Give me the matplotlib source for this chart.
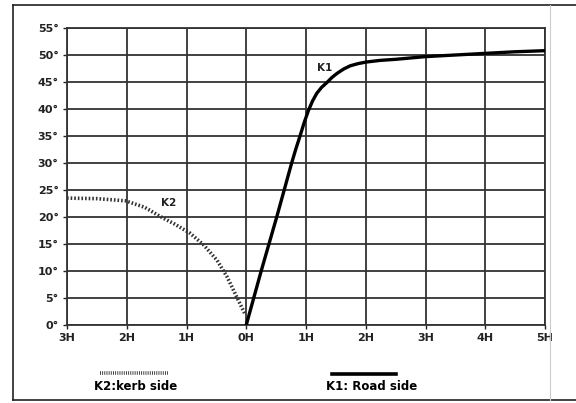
import numpy as np
import matplotlib.pyplot as plt
from matplotlib.lines import Line2D

# K1: road side (x in H, angle in degrees)
k1_x = [0.0, 0.25, 0.51, 0.76, 0.83, 0.9, 0.97, 1.04, 1.11, 1.18, 1.26, 1.35, 1.43, 1.52, 1.63, 1.74, 1.87, 2.01, 2.24, 2.5, 3.0, 3.5, 4.0, 4.5, 5.0]
k1_y = [0.0, 10.0, 20.0, 30.0, 32.6, 35.0, 37.5, 39.7, 41.5, 42.9, 44.0, 44.9, 45.8, 46.6, 47.4, 48.0, 48.4, 48.7, 49.0, 49.2, 49.7, 50.0, 50.3, 50.6, 50.8]

# K2: kerb side
k2_x = [-3.0, -2.5, -2.02, -1.7, -1.44, -1.2, -0.94, -0.71, -0.49, -0.32, -0.16, -0.02]
k2_y = [23.5, 23.4, 23.0, 21.8, 20.1, 18.7, 17.0, 14.8, 12.0, 8.9, 5.2, 2.0]

x_ticks = [-3, -2, -1, 0, 1, 2, 3, 4, 5]
x_labels = ["3H", "2H", "1H", "0H", "1H", "2H", "3H", "4H", "5H"]
y_ticks = list(range(0, 56, 5))
y_labels = [f"{v}°" for v in y_ticks]


def main():
	fig = plt.figure(figsize=(5.76, 4.03), dpi=100)
	ax = fig.add_axes([67/576, 1-325/403, (545-67)/576, (325-28)/403])

	ax.set_xlim(-3, 5)
	ax.set_ylim(0, 55)
	ax.set_xticks(x_ticks)
	ax.set_xticklabels(x_labels, fontsize=8, fontweight='bold')
	ax.set_yticks(y_ticks)
	ax.set_yticklabels(y_labels, fontsize=8, fontweight='bold')
	ax.tick_params(length=3, width=1, pad=3, colors='#222222')
	ax.grid(True, color='#333333', linewidth=1.3)
	for s in ax.spines.values():
		s.set_color('#333333')
		s.set_linewidth(1.3)

	ax.plot(k1_x, k1_y, color='black', linewidth=2.4, solid_capstyle='round', solid_joinstyle='round', zorder=3)
	ax.plot(k2_x, k2_y, color='#333333', linewidth=2.6, linestyle=(0, (0.45, 0.55)), zorder=3)

	ax.text(1.32, 47.6, "K1", fontsize=7.5, fontweight='bold', ha='center', va='center', color='#222222')
	ax.text(-1.3, 22.6, "K2", fontsize=7.5, fontweight='bold', ha='center', va='center', color='#222222')

	# legend below the chart
	fig.add_artist(Line2D([100/576, 168/576], [1-373/403, 1-373/403], color='#333333', linewidth=2.6,
		linestyle=(0, (0.25, 0.35))))
	fig.text(136/576, 1-387/403, "K2:kerb side", fontsize=8.5, fontweight='bold', ha='center', va='center')
	fig.add_artist(Line2D([332/576, 396/576], [1-374/403, 1-374/403], color='black', linewidth=2.6))
	fig.text(372/576, 1-387/403, "K1: Road side", fontsize=8.5, fontweight='bold', ha='center', va='center')

	# outer frame
	fig.add_artist(Line2D([13/576, 576/576], [1-5/403, 1-5/403], color='#222222', linewidth=1.2))
	fig.add_artist(Line2D([13/576, 576/576], [1-400/403, 1-400/403], color='#222222', linewidth=1.2))
	fig.add_artist(Line2D([13/576, 13/576], [1-5/403, 1-400/403], color='#222222', linewidth=1.2))
	fig.add_artist(Line2D([550/576, 550/576], [1-5/403, 1-400/403], color='#cccccc', linewidth=0.8))

	fig.savefig("out.png", dpi=100)


if __name__ == "__main__":
	main()
